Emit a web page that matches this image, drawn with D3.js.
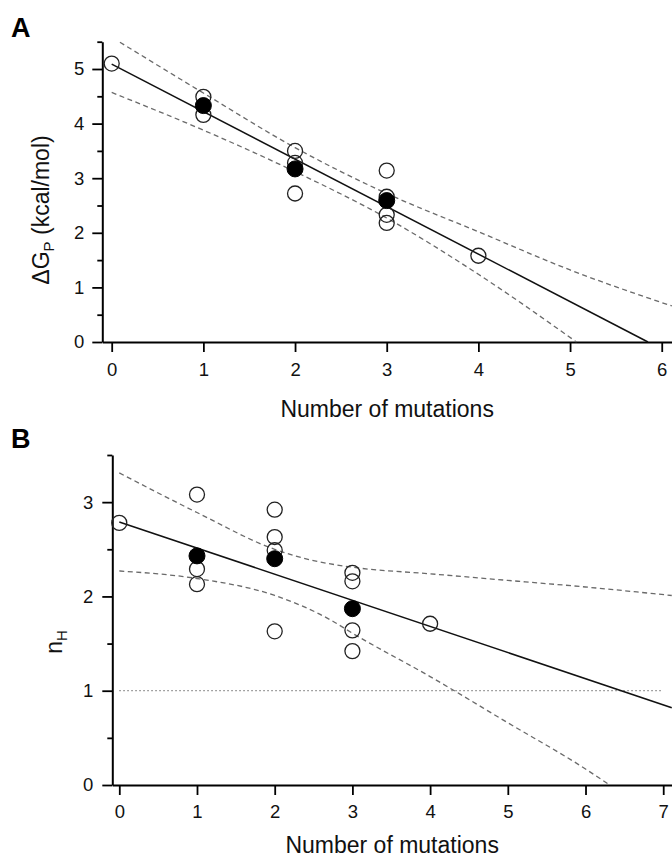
<!DOCTYPE html>
<html>
<head>
<meta charset="utf-8">
<script src="https://cdn.jsdelivr.net/npm/d3@7"></script>
<style>
  html, body { margin: 0; padding: 0; background: #fff; }
  svg { display: block; font-family: "Liberation Sans", Arial, Helvetica, sans-serif; }
</style>
</head>
<body>
<svg id="chart" width="672" height="863"></svg>
<script>
// ---------- Panel A data ----------
const aOpenX = [0, 1, 1, 2, 2, 2, 3, 3, 3, 3, 4];
const aOpenY = [5.10, 4.49, 4.16, 3.50, 3.28, 2.72, 3.14, 2.66, 2.33, 2.18, 1.58];
const aMeanX = [1, 2, 3];
const aMeanY = [4.33, 3.17, 2.59];
const aFitX = [0, 5.85];
const aFitY = [5.09, 0];
const aUpperX = [0.09, 1, 2, 3, 4, 5, 6.11];
const aUpperY = [5.49, 4.56, 3.56, 2.72, 2.02, 1.32, 0.66];
const aLowerX = [0, 1, 2, 3, 4, 5.07];
const aLowerY = [4.57, 3.88, 3.12, 2.27, 1.24, 0];
const aXTicks = [0, 1, 2, 3, 4, 5, 6];
const aYTicks = [0, 1, 2, 3, 4, 5];
const aYMinor = [0.5, 1.5, 2.5, 3.5, 4.5, 5.5];

// ---------- Panel B data ----------
const bOpenX = [0, 1, 1, 1, 2, 2, 2, 2, 3, 3, 3, 3, 4];
const bOpenY = [2.78, 3.08, 2.29, 2.13, 2.92, 2.63, 2.49, 1.63, 2.25, 2.16, 1.64, 1.42, 1.71];
const bMeanX = [1, 2, 3];
const bMeanY = [2.43, 2.40, 1.87];
const bFitX = [0, 7.11];
const bFitY = [2.79, 0.82];
const bUpperX = [0, 1, 2, 2.5, 3, 4, 5, 6, 7.11];
const bUpperY = [3.31, 2.89, 2.50, 2.38, 2.31, 2.24, 2.17, 2.10, 2.01];
const bLowerX = [0, 1, 2, 2.72, 3, 4, 5, 6, 6.31];
const bLowerY = [2.27, 2.19, 2.01, 1.75, 1.61, 1.15, 0.66, 0.17, 0];
const bRefX = [0, 7];
const bRefY = [1, 1];
const bXTicks = [0, 1, 2, 3, 4, 5, 6, 7];
const bYTicks = [0, 1, 2, 3];
const bYMinor = [0.5, 1.5, 2.5, 3.5];

const xTitle = "Number of mutations";

const svg = d3.select("#chart");
const zip = (xs, ys) => xs.map((x, i) => [x, ys[i]]);

function drawPanel(cfg) {
  const g = svg.append("g");
  const x = d3.scaleLinear().domain(cfg.xDomain).range([cfg.left, cfg.right]);
  const y = d3.scaleLinear().domain(cfg.yDomain).range([cfg.bottom, cfg.top]);

  // panel letter
  svg.append("text").attr("x", cfg.letterX).attr("y", cfg.letterY)
    .attr("font-size", 27).attr("font-weight", "bold").attr("fill", "#000")
    .text(cfg.letter);

  // axes
  const xAxis = g.append("g").attr("transform", `translate(0,${cfg.bottom})`)
    .call(d3.axisBottom(x).tickValues(cfg.xTicks).tickSize(10).tickSizeOuter(0)
      .tickPadding(cfg.xPad).tickFormat(d3.format("d")));
  const yAxis = g.append("g").attr("transform", `translate(${cfg.left},0)`)
    .call(d3.axisLeft(y).tickValues(cfg.yTicks).tickSize(10).tickSizeOuter(0)
      .tickPadding(cfg.yPad).tickFormat(d3.format("d")));
  const yMinor = g.append("g").attr("transform", `translate(${cfg.left},0)`)
    .call(d3.axisLeft(y).tickValues(cfg.yMinor).tickSize(5).tickSizeOuter(0).tickFormat(""));
  yMinor.select(".domain").remove();
  [xAxis, yAxis, yMinor].forEach(a => {
    a.select(".domain").attr("stroke", "#000").attr("stroke-width", 2);
    a.selectAll(".tick line").attr("stroke", "#000").attr("stroke-width", 1.8);
    a.selectAll(".tick text").attr("font-size", 18.5).attr("fill", "#111")
      .attr("font-family", "Liberation Sans, Arial, sans-serif");
  });

  const line = d3.line().x(d => x(d[0])).y(d => y(d[1]));
  const curve = d3.line().x(d => x(d[0])).y(d => y(d[1])).curve(d3.curveMonotoneX);

  if (cfg.ref) {
    g.append("path").attr("d", line(cfg.ref)).attr("fill", "none")
      .attr("stroke", "#666").attr("stroke-width", 1).attr("stroke-dasharray", "1.5,2.5");
  }
  [cfg.upper, cfg.lower].forEach(band => {
    g.append("path").attr("d", curve(band)).attr("fill", "none")
      .attr("stroke", "#6a6a6a").attr("stroke-width", 1.3).attr("stroke-dasharray", "5,3.5");
  });
  g.append("path").attr("d", line(cfg.fit)).attr("fill", "none")
    .attr("stroke", "#111").attr("stroke-width", 1.5);

  g.selectAll("circle.open").data(cfg.open).join("circle").attr("class", "open")
    .attr("cx", d => x(d[0])).attr("cy", d => y(d[1])).attr("r", 7.5)
    .attr("fill", "none").attr("stroke", "#222").attr("stroke-width", 1.3);
  g.selectAll("circle.mean").data(cfg.mean).join("circle").attr("class", "mean")
    .attr("cx", d => x(d[0])).attr("cy", d => y(d[1])).attr("r", 8)
    .attr("fill", "#000").attr("stroke", "#000").attr("stroke-width", 1);

  // x title
  svg.append("text").attr("x", (cfg.left + cfg.right) / 2).attr("y", cfg.xTitleY)
    .attr("text-anchor", "middle").attr("font-size", 23).attr("fill", "#111")
    .text(xTitle);
  // y title
  const yt = svg.append("text")
    .attr("transform", `translate(${cfg.yTitleX},${cfg.yTitleY}) rotate(-90)`)
    .attr("text-anchor", "middle").attr("font-size", 23).attr("fill", "#111");
  cfg.yTitle(yt);
}

drawPanel({
  letter: "A", letterX: 11, letterY: 37,
  xDomain: [-0.1025, 6.112], left: 102.3, right: 672,
  yDomain: [0, 5.5], bottom: 342, top: 41.7,
  xTicks: aXTicks, yTicks: aYTicks, yMinor: aYMinor, xPad: 11, yPad: 8,
  open: zip(aOpenX, aOpenY), mean: zip(aMeanX, aMeanY),
  fit: zip(aFitX, aFitY), upper: zip(aUpperX, aUpperY), lower: zip(aLowerX, aLowerY),
  xTitleY: 417, yTitleX: 49, yTitleY: 210,
  yTitle: t => {
    t.append("tspan").text("\u0394G");
    t.append("tspan").attr("font-size", 15).attr("dy", 5).text("P");
    t.append("tspan").attr("dy", -5).text(" (kcal/mol)");
  }
});

drawPanel({
  letter: "B", letterX: 11, letterY: 448,
  xDomain: [-0.09, 7.113], left: 112.3, right: 672,
  yDomain: [0, 3.5], bottom: 785, top: 455,
  xTicks: bXTicks, yTicks: bYTicks, yMinor: bYMinor, xPad: 10, yPad: 9,
  open: zip(bOpenX, bOpenY), mean: zip(bMeanX, bMeanY),
  fit: zip(bFitX, bFitY), upper: zip(bUpperX, bUpperY), lower: zip(bLowerX, bLowerY),
  ref: zip(bRefX, bRefY),
  xTitleY: 853, yTitleX: 62, yTitleY: 642,
  yTitle: t => {
    t.append("tspan").text("n");
    t.append("tspan").attr("font-size", 15).attr("dy", 5).text("H");
  }
});
</script>
</body>
</html>
